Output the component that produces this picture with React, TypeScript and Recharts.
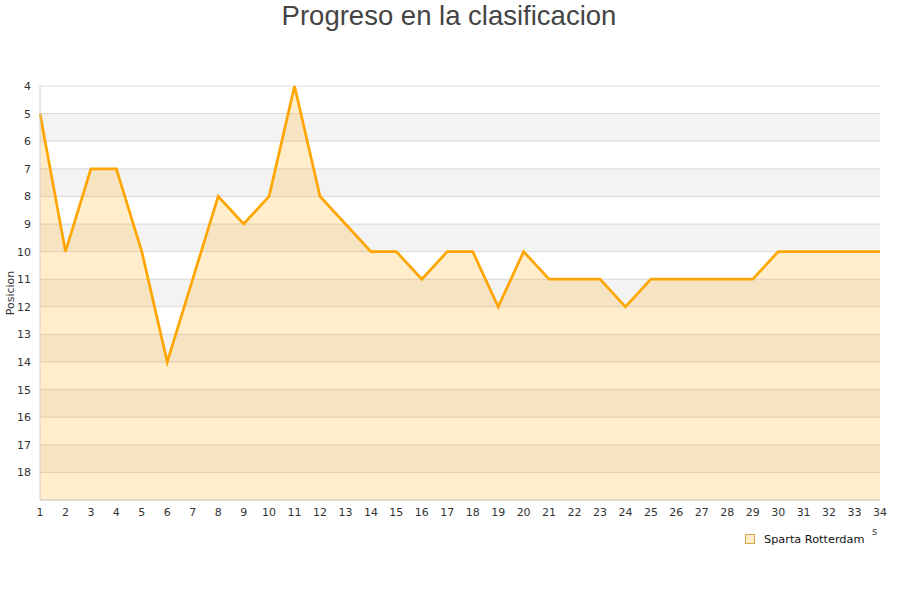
import React from 'react';
import {
  AreaChart,
  Area,
  XAxis,
  YAxis,
  CartesianGrid,
  ReferenceArea,
  Customized,
} from 'recharts';

const jornadas: number[] = Array.from({ length: 34 }, (_, i) => i + 1);
const posiciones: number[] = [
  5, 10, 7, 7, 10, 14, 11, 8, 9, 8, 4, 8, 9, 10, 10, 11, 10, 10, 12, 10, 11, 11, 11, 12, 11, 11, 11,
  11, 11, 10, 10, 10, 10, 10,
];
const yTicks: number[] = [4, 5, 6, 7, 8, 9, 10, 11, 12, 13, 14, 15, 16, 17, 18];
const bandas: [number, number][] = [
  [5, 6],
  [7, 8],
  [9, 10],
  [11, 12],
  [13, 14],
  [15, 16],
  [17, 18],
];
const equipo = 'Sparta Rotterdam';
const titulo = 'Progreso en la clasificacion';

const data = jornadas.map((j, i) => ({ jornada: j, pos: posiciones[i] }));

const font = 'DejaVu Sans, sans-serif';

export default function App() {
  return (
    <div style={{ position: 'absolute', left: 0, top: 0, width: 900, height: 600, background: '#fff' }}>
      <AreaChart width={900} height={600} data={data} margin={{ top: 86, right: 20, bottom: 70, left: 0 }}>
        {bandas.map(([a, b]) => (
          <ReferenceArea key={a} y1={a} y2={b} fill="#000" fillOpacity={0.047} stroke="none" ifOverflow="hidden" />
        ))}
        <CartesianGrid vertical={false} stroke="#dedede" strokeWidth={1} />
        <XAxis
          dataKey="jornada"
          type="category"
          interval={0}
          height={30}
          tickLine={false}
          axisLine={{ stroke: '#d0d0d0' }}
          tick={{ fontSize: 11, fill: '#333', fontFamily: font }}
          tickMargin={2}
        />
        <YAxis
          type="number"
          domain={[4, 19]}
          reversed
          ticks={yTicks}
          interval={0}
          width={40}
          tickLine={false}
          axisLine={{ stroke: '#d0d0d0' }}
          tick={{ fontSize: 11, fill: '#333', fontFamily: font }}
          tickMargin={3}
          allowDataOverflow
          label={{
            value: 'Posicion',
            angle: -90,
            position: 'insideLeft',
            offset: 10,
            style: { textAnchor: 'middle', fontSize: 11, fill: '#333', fontFamily: font },
          }}
        />
        <Area
          type="linear"
          dataKey="pos"
          baseValue={19}
          stroke="#FFA500"
          strokeWidth={2.7}
          fill="#FFA500"
          fillOpacity={0.2}
          dot={false}
          activeDot={false}
          isAnimationActive={false}
        />
        <Customized
          component={() => (
            <g>
              <text x={449} y={25} textAnchor="middle" fontSize={27.5} fill="#444" fontFamily="Liberation Sans, Arial, sans-serif">
                {titulo}
              </text>
              <rect x={745.5} y={534.5} width={9} height={9} fill="#FFEDCC" stroke="#d9a54a" strokeWidth={1} />
              <text x={764} y={543} fontSize={11.3} fill="#111" fontFamily={font}>
                {equipo}
              </text>
              <text x={872} y={535} fontSize={10} fill="#444" fontFamily={font}>
                s
              </text>
            </g>
          )}
        />
      </AreaChart>
    </div>
  );
}
